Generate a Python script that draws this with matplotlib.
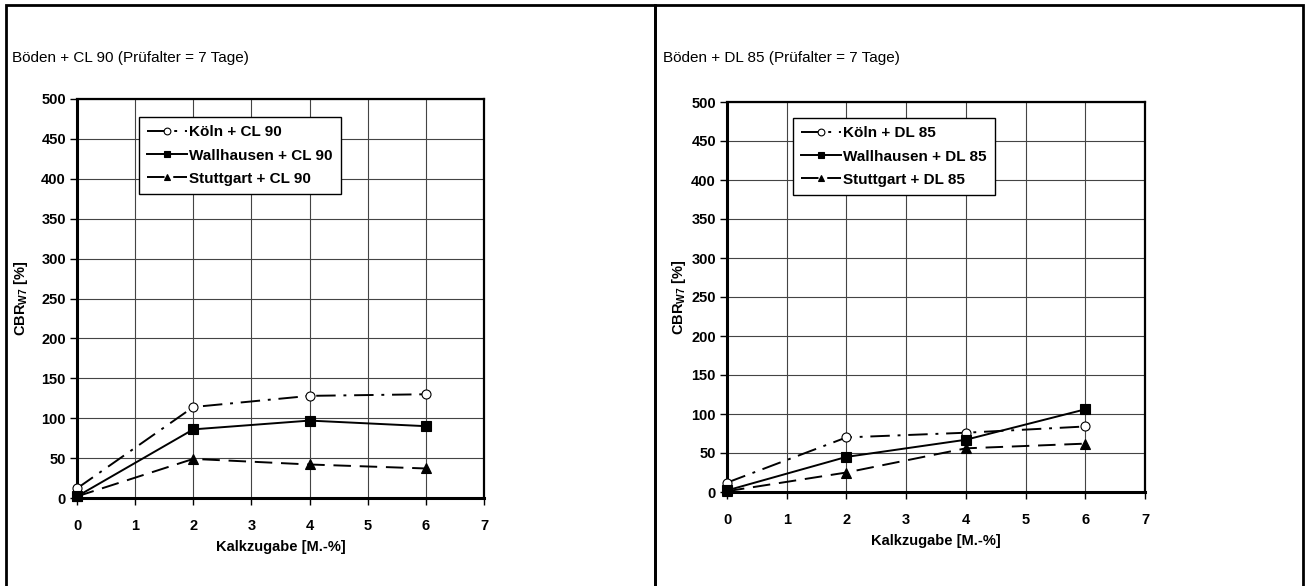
import matplotlib.pyplot as plt
from matplotlib.patches import Rectangle

plt.rcParams["font.family"] = ["Liberation Sans", "DejaVu Sans"]
plt.rcParams["mathtext.fontset"] = "custom"
plt.rcParams["mathtext.rm"] = "Liberation Sans"
plt.rcParams["mathtext.bf"] = "Liberation Sans:bold"

kalk = [0, 2, 4, 6]

# left panel: CL 90
cl_titel = "Böden + CL 90 (Prüfalter = 7 Tage)"
cl_labels = ["Köln + CL 90", "Wallhausen + CL 90", "Stuttgart + CL 90"]
cl_koeln = [12, 114, 128, 130]
cl_wallhausen = [2, 86, 97, 90]
cl_stuttgart = [2, 49, 42, 37]

# right panel: DL 85
dl_titel = "Böden + DL 85 (Prüfalter = 7 Tage)"
dl_labels = ["Köln + DL 85", "Wallhausen + DL 85", "Stuttgart + DL 85"]
dl_koeln = [12, 70, 76, 84]
dl_wallhausen = [2, 45, 67, 106]
dl_stuttgart = [1, 25, 56, 62]

x_ticks = list(range(0, 8))
y_ticks = list(range(0, 501, 50))

W, H = 1309, 586
fig = plt.figure(figsize=(W / 100, H / 100), dpi=100)

# outer frames
for x0, x1 in [(6, 655), (655, 1303)]:
    fig.patches.append(Rectangle((x0 / W, -0.05), (x1 - x0) / W, 1.05 - 5 / H,
                                 transform=fig.transFigure, fill=False,
                                 edgecolor="black", lw=2))


def panel(rect, titel_x, titel, labels, series, leg_anchor, ylab_x):
    ax = fig.add_axes(rect)
    styles = [
        dict(ls=(0, (10, 4, 1.5, 4)), marker="o", mfc="white", ms=6.5),
        dict(ls="-", marker="s", mfc="black", ms=6.5),
        dict(ls=(0, (9, 4.5)), marker="^", mfc="black", ms=6.5),
    ]
    for vals, lab, st in zip(series, labels, styles):
        ax.plot(kalk, vals, color="black", lw=1.4, mec="black", mew=0.8,
                label=lab, clip_on=False, zorder=3, **st)
    ax.set_xlim(0, 7)
    ax.set_ylim(0, 500)
    ax.set_xticks(x_ticks)
    ax.set_yticks(y_ticks)
    ax.grid(True, color="#444444", lw=0.8)
    ax.set_axisbelow(True)
    for s in ["left", "bottom"]:
        ax.spines[s].set_linewidth(2.2)
    for s in ["top", "right"]:
        ax.spines[s].set_linewidth(1.6)
    ax.tick_params(axis="both", direction="out", length=5, width=1, labelsize=10.5)
    ax.tick_params(axis="x", pad=10)
    ax.tick_params(axis="y", pad=3)
    for t in ax.get_xticklabels() + ax.get_yticklabels():
        t.set_fontweight("bold")
    ax.set_xlabel("Kalkzugabe [M.-%]", fontsize=10.5, fontweight="bold", labelpad=5)
    ax.set_ylabel(r"CBR$_\mathbf{W7}$ [%]", fontsize=10.5, fontweight="bold")
    ax.yaxis.set_label_coords(ylab_x, 0.5)
    leg = ax.legend(loc="upper left", bbox_to_anchor=leg_anchor, borderaxespad=0,
                    fancybox=False, framealpha=1, edgecolor="black",
                    prop=dict(weight="bold", size=11), handlelength=2.6,
                    handletextpad=0.15, labelspacing=0.6, borderpad=0.55,
                    markerscale=0.75)
    leg.get_frame().set_linewidth(1)
    fig.text(titel_x / W, 1 - 58 / H, titel, fontsize=11, va="center")
    return ax


panel([77 / W, 1 - 498 / H, 407 / W, 399 / H], 12, cl_titel, cl_labels,
      [cl_koeln, cl_wallhausen, cl_stuttgart], (0.152, 0.955), -0.115)
panel([727 / W, 1 - 492 / H, 418 / W, 390 / H], 663, dl_titel, dl_labels,
      [dl_koeln, dl_wallhausen, dl_stuttgart], (0.158, 0.959), -0.093)

fig.savefig("out.png", dpi=100)
